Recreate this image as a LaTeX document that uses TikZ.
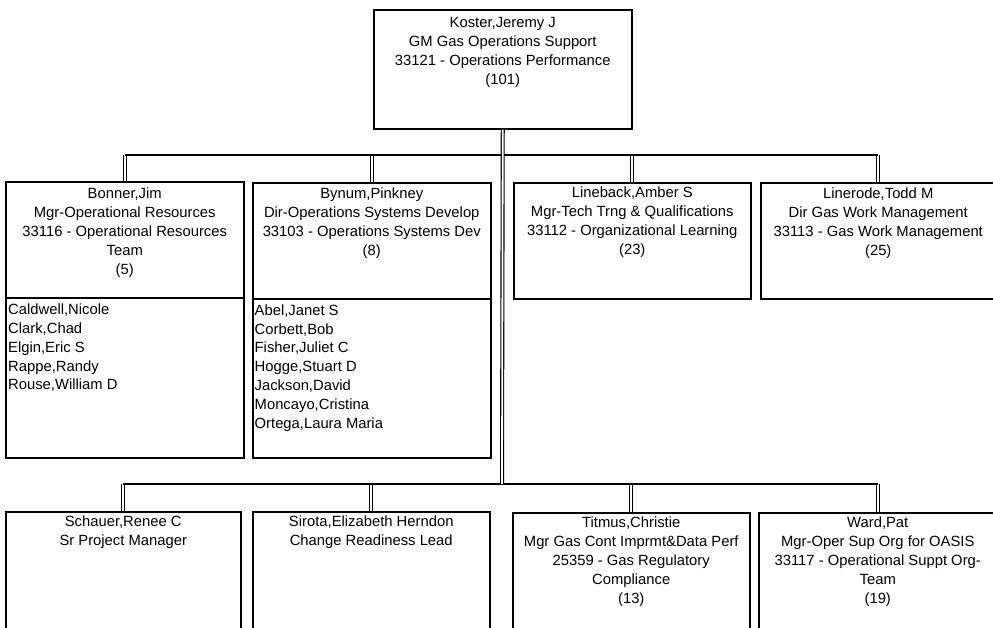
\documentclass[tikz,border=0pt]{standalone}
\usepackage{fontspec}
\setmainfont{Liberation Sans}
\begin{document}
\begin{tikzpicture}[x=1pt,y=-1pt,
  box/.style={draw,line width=1.5pt,fill=white,inner sep=0pt,anchor=north west},
  txt/.style={align=center,anchor=north,inner sep=0pt,font=\fontsize{14.8}{19}\selectfont},
  lst/.style={align=left,anchor=north west,inner sep=0pt,font=\fontsize{14.8}{18.8}\selectfont},
  conn/.style={double,line width=1.1pt,double distance=1.8pt},
  bus/.style={line width=1.5pt}]
\useasboundingbox (0,0) rectangle (993,627);
\clip (0,0) rectangle (993,627);
% boxes
\node[box,minimum width=258pt,minimum height=119pt] (top) at (373,9) {};
\node[box,minimum width=238pt,minimum height=116pt] (bon) at (5,181) {};
\node[box,minimum width=238pt,minimum height=160pt] (bonl) at (5,297) {};
\node[box,minimum width=238pt,minimum height=116pt] (byn) at (252,182) {};
\node[box,minimum width=238pt,minimum height=159pt] (bynl) at (252,298) {};
\node[box,minimum width=237pt,minimum height=116pt] (lin) at (513,182) {};
\node[box,minimum width=235pt,minimum height=116pt] (lnr) at (760,182) {};
\node[box,minimum width=235pt,minimum height=130pt] (sch) at (5,511) {};
\node[box,minimum width=237pt,minimum height=130pt] (sir) at (252,511) {};
\node[box,minimum width=237pt,minimum height=130pt] (tit) at (512,512) {};
\node[box,minimum width=238pt,minimum height=130pt] (war) at (758,512) {};
% texts
\node[txt] (ttop) at ([yshift=-6pt]top.north) {\rule{0pt}{12pt}Koster,Jeremy J\\GM Gas Operations Support\\33121 - Operations Performance\\(101)};
\node[txt] (tbon) at ([yshift=-5pt]bon.north) {\rule{0pt}{12pt}Bonner,Jim\\Mgr-Operational Resources\\33116 - Operational Resources\\Team\\(5)};
\node[lst] (tbonl) at ([xshift=3pt,yshift=-5.5pt]bonl.north west) {\rule{0pt}{12pt}Caldwell,Nicole\\Clark,Chad\\Elgin,Eric S\\Rappe,Randy\\Rouse,William D};
\node[txt] (tbyn) at ([yshift=-4pt]byn.north) {\rule{0pt}{12pt}Bynum,Pinkney\\Dir-Operations Systems Develop\\33103 - Operations Systems Dev\\(8)};
\node[lst] (tbynl) at ([xshift=2.5pt,yshift=-5pt]bynl.north west) {\rule{0pt}{12pt}Abel,Janet S\\Corbett,Bob\\Fisher,Juliet C\\Hogge,Stuart D\\Jackson,David\\Moncayo,Cristina\\Ortega,Laura Maria};
\node[txt] (tlin) at ([yshift=-3.5pt]lin.north) {\rule{0pt}{12pt}Lineback,Amber S\\Mgr-Tech Trng \& Qualifications\\33112 - Organizational Learning\\(23)};
\node[txt] (tlnr) at ([yshift=-4pt]lnr.north) {\rule{0pt}{12pt}Linerode,Todd M\\Dir Gas Work Management\\33113 - Gas Work Management\\(25)};
\node[txt] (tsch) at ([yshift=-3.5pt]sch.north) {\rule{0pt}{12pt}Schauer,Renee C\\Sr Project Manager};
\node[txt] (tsir) at ([yshift=-3.5pt]sir.north) {\rule{0pt}{12pt}Sirota,Elizabeth Herndon\\Change Readiness Lead};
\node[txt] (ttit) at ([yshift=-3.5pt]tit.north) {\rule{0pt}{12pt}Titmus,Christie\\Mgr Gas Cont Imprmt\&Data Perf\\25359 - Gas Regulatory\\Compliance\\(13)};
\node[txt] (twar) at ([yshift=-3.5pt]war.north) {\rule{0pt}{12pt}Ward,Pat\\Mgr-Oper Sup Org for OASIS\\33117 - Operational Suppt Org-\\Team\\(19)};
% connectors
\coordinate (b1) at (502,155);
\coordinate (b2) at (502,484);
\draw[conn] (bon.north |- b1) -- (bon.north);
\draw[conn] (byn.north |- b1) -- (byn.north);
\draw[conn] (lin.north |- b1) -- (lin.north);
\draw[conn] (lnr.north |- b1) -- (lnr.north);
\draw[conn] (sch.north |- b2) -- (sch.north);
\draw[conn] (sir.north |- b2) -- (sir.north);
\draw[conn] (tit.north |- b2) -- (tit.north);
\draw[conn] (war.north |- b2) -- (war.north);
\draw[bus] (bon.north |- b1) -- (lnr.north |- b1);
\draw[bus] (sch.north |- b2) -- (war.north |- b2);
\draw[conn] (top.south) -- (b2);
\end{tikzpicture}
\end{document}
